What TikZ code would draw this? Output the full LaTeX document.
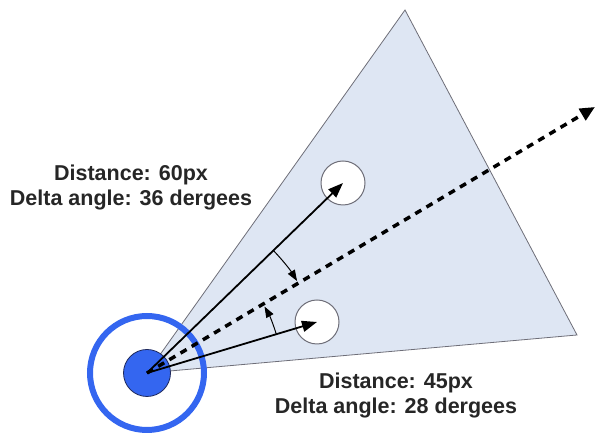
\documentclass[tikz,border=0pt]{standalone}
\usepackage{fontspec}
\setmainfont{Liberation Sans}
\usetikzlibrary{arrows.meta,positioning,calc}
\definecolor{fovBlue}{RGB}{52,102,240}
\definecolor{fovDark}{RGB}{30,40,90}
\definecolor{fovFill}{RGB}{222,230,243}
\definecolor{fovEdge}{RGB}{110,110,120}

\begin{document}
\begin{tikzpicture}[x=1pt, y=1pt,
    target/.style={circle, draw=fovEdge, fill=white, line width=1pt,
                   minimum size=44pt, inner sep=0pt},
    seeker/.style={circle, draw=fovDark, fill=fovBlue, line width=0.8pt,
                   minimum size=47pt, inner sep=0pt},
    vec/.style={-{Triangle[length=15pt, width=11pt]}, line width=1.8pt, black},
    heading/.style={-{Triangle[length=15pt, width=13pt]}, line width=3.5pt,
                    dash pattern=on 7pt off 6pt, black},
    delta/.style={-{Triangle[length=11pt, width=8pt]}, line width=1pt, black},
    info/.style={align=center, font=\fontsize{21.5}{25}\selectfont\bfseries,
                 text=black!85}
  ]
  \useasboundingbox (0,0) rectangle (600,435);
  % view cone
  \coordinate (o) at (147,62);
  \coordinate (top) at (405,425);
  \coordinate (right) at (577,100);
  \filldraw[fill=fovFill, draw=fovEdge, line width=0.8pt] (o)--(top)--(right)--cycle;
  % seeker
  \draw[fovBlue, line width=6pt] (o) circle[radius=57];
  \node[seeker] (seek) at (o) {};
  % targets
  \node[target] (t1) at (343,252) {};
  \node[target] (t2) at (317,113) {};
  \coordinate (aim) at (595,328);
  \draw[heading] (seek.center)--(aim);
  \draw[vec] (seek.center)--(t1.center);
  \draw[vec] (seek.center)--(t2.center);
  % delta angles
  \draw[delta] ($(o)+(44.3:176)$) arc[start angle=44.3, end angle=31.5, radius=176];
  \draw[delta] ($(o)+(16.7:135)$) arc[start angle=16.7, end angle=29.5, radius=135];
  % labels
  \node[info] (l1) at (131,248) {Distance: 60px\\Delta angle: 36 dergees};
  \node[info] (l2) at (396,40) {Distance: 45px\\Delta angle: 28 dergees};
\end{tikzpicture}
\end{document}
